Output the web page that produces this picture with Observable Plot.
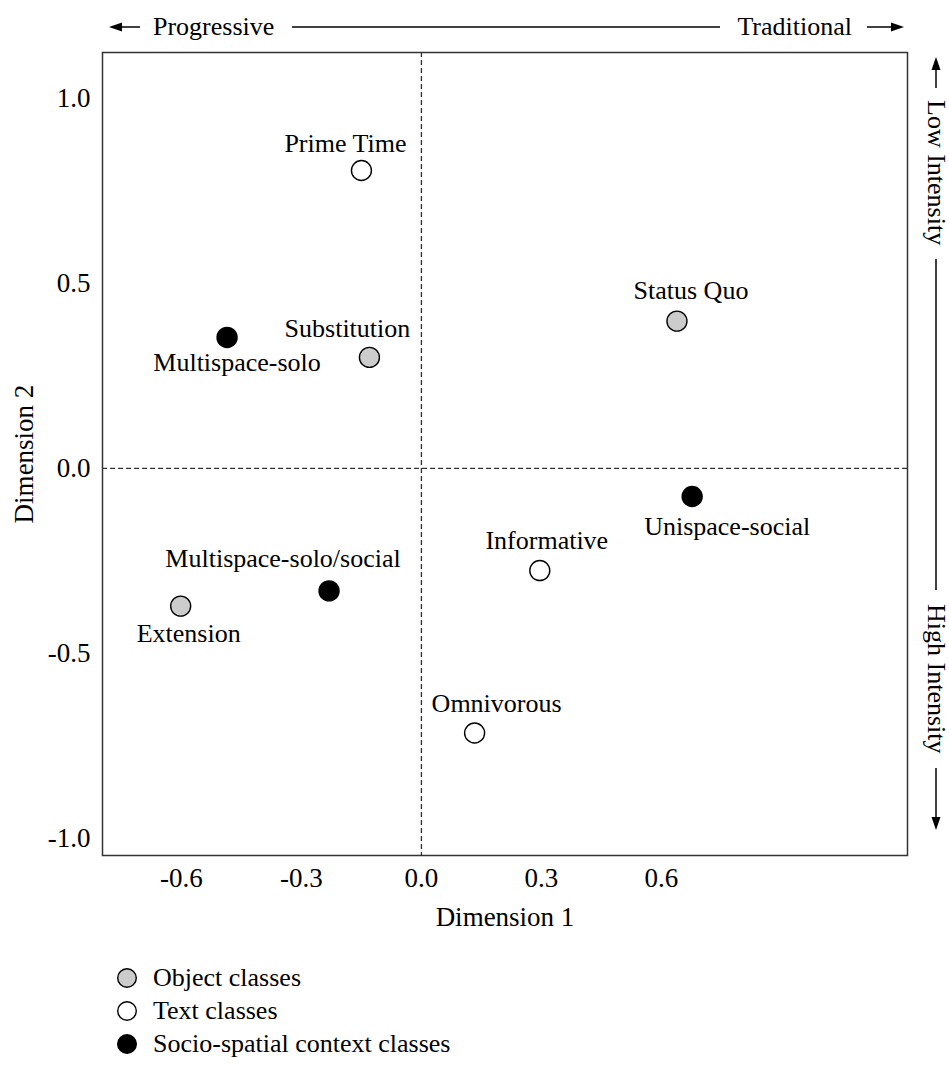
<!DOCTYPE html>
<html>
<head>
<meta charset="utf-8">
<script src="https://cdn.jsdelivr.net/npm/d3@7"></script>
<script src="https://cdn.jsdelivr.net/npm/@observablehq/plot@0.6"></script>
<style>
  body { margin: 0; background: #fff; font-family: "Liberation Serif", "Times New Roman", serif; }
  #wrap { width: 949px; }
  #legend { position: relative; width: 949px; height: 126px; }
  .lrow { position: absolute; left: 0; height: 34px; display: flex; align-items: center; font-size: 26px; color: #000; }
  .lrow svg { position: absolute; left: 116px; }
  .lrow span { position: absolute; left: 153px; white-space: nowrap; }
</style>
</head>
<body>
<div id="wrap"><div id="chart"></div><div id="legend"></div></div>
<script>
// ---- data ----
const labels = ["Prime Time", "Multispace-solo", "Substitution", "Status Quo", "Unispace-social",
                "Informative", "Multispace-solo/social", "Extension", "Omnivorous"];
const groups = ["Text", "Socio", "Object", "Object", "Socio", "Text", "Socio", "Object", "Text"];
const dim1 = [-0.150, -0.486, -0.130, 0.639, 0.677, 0.296, -0.231, -0.602, 0.133];
const dim2 = [0.805, 0.354, 0.300, 0.398, -0.076, -0.276, -0.331, -0.372, -0.715];
const classKeys = ["Object", "Text", "Socio"];
const classNames = ["Object classes", "Text classes", "Socio-spatial context classes"];
const xTicks = [-0.6, -0.3, 0.0, 0.3, 0.6];
const yTicks = [1.0, 0.5, 0.0, -0.5, -1.0];
const xDomain = [-0.7975, 1.2155];
const yDomain = [-1.046, 1.124];

// ---- styling / layout ----
const classFill = {Object: "#cccccc", Text: "#ffffff", Socio: "#000000"};
const labelNudge = {
  "Prime Time": [-16, -27],
  "Multispace-solo": [10, 25],
  "Substitution": [-22, -29],
  "Status Quo": [14, -30],
  "Unispace-social": [35, 30],
  "Informative": [7, -30],
  "Multispace-solo/social": [-46, -32],
  "Extension": [8, 28],
  "Omnivorous": [22, -29]
};

const points = labels.map((name, i) => ({name, group: groups[i], d1: dim1[i], d2: dim2[i]}));

const W = 949, H = 945;
const M = {top: 52, right: 42, bottom: 90, left: 102};
const fontFamily = '"Liberation Serif", "Times New Roman", serif';

const labelMarks = points.map(p => Plot.text([p], {
  x: "d1", y: "d2", text: "name",
  dx: labelNudge[p.name][0], dy: labelNudge[p.name][1],
  fontSize: 26, fill: "#000", textAnchor: "middle", lineAnchor: "middle"
}));

const chart = Plot.plot({
  width: W, height: H,
  marginTop: M.top, marginRight: M.right, marginBottom: M.bottom, marginLeft: M.left,
  style: {fontFamily, fontSize: "26px", background: "#fff", color: "#000", overflow: "visible"},
  x: {domain: xDomain},
  y: {domain: yDomain},
  marks: [
    Plot.ruleX([0], {stroke: "#333", strokeWidth: 1.3, strokeDasharray: "5,3"}),
    Plot.ruleY([0], {stroke: "#333", strokeWidth: 1.3, strokeDasharray: "5,3"}),
    Plot.frame({stroke: "#333", strokeWidth: 1.5}),
    Plot.axisX({ticks: xTicks, tickSize: 0, tickPadding: 12, tickFormat: d => d.toFixed(1), label: null, fontSize: 27, fill: "#000"}),
    Plot.axisY({ticks: yTicks, tickSize: 0, tickPadding: 12, tickFormat: d => d.toFixed(1), label: null, fontSize: 27, fill: "#000"}),
    Plot.dot(points, {x: "d1", y: "d2", r: 10, fill: d => classFill[d.group], stroke: "#000", strokeWidth: 1.4}),
    ...labelMarks,
    Plot.text(["Dimension 1"], {text: d => d, frameAnchor: "bottom", textAnchor: "middle", dy: 70, fontSize: 27, fill: "#000"}),
    Plot.text(["Dimension 2"], {text: d => d, frameAnchor: "left", textAnchor: "middle", dx: -78, rotate: -90, fontSize: 27, fill: "#000"})
  ]
});
document.getElementById("chart").appendChild(chart);

// ---- direction annotations (decorative, outside the frame) ----
const svg = d3.select(chart);
const ann = svg.append("g").attr("font-family", fontFamily).attr("font-size", 26).attr("fill", "#000");
const fl = M.left, fr = W - M.right, ft = M.top, fb = H - M.bottom;
// top: Progressive <-> Traditional
const ty = 27;
const arrowStroke = g => g.attr("stroke", "#000").attr("stroke-width", 1.5);
ann.append("line").attr("x1", fl + 17).attr("x2", fl + 38).attr("y1", ty).attr("y2", ty).call(arrowStroke);
ann.append("path").attr("d", `M${fl + 7},${ty} L${fl + 20},${ty - 4.5} L${fl + 20},${ty + 4.5} Z`).attr("fill", "#000");
ann.append("text").attr("x", fl + 51).attr("y", ty).attr("dy", "0.32em").attr("text-anchor", "start").text("Progressive");
ann.append("line").attr("x1", fl + 190).attr("x2", fr - 187).attr("y1", ty).attr("y2", ty).call(arrowStroke);
ann.append("text").attr("x", fr - 55).attr("y", ty).attr("dy", "0.32em").attr("text-anchor", "end").text("Traditional");
ann.append("line").attr("x1", fr - 40).attr("x2", fr - 14).attr("y1", ty).attr("y2", ty).call(arrowStroke);
ann.append("path").attr("d", `M${fr - 3},${ty} L${fr - 16},${ty - 4.5} L${fr - 16},${ty + 4.5} Z`).attr("fill", "#000");

// right: Low Intensity <-> High Intensity
const rx = 936;
ann.append("path").attr("d", `M${rx},${ft + 5} L${rx - 4.5},${ft + 18} L${rx + 4.5},${ft + 18} Z`).attr("fill", "#000");
ann.append("line").attr("x1", rx).attr("x2", rx).attr("y1", ft + 15).attr("y2", ft + 36).call(arrowStroke);
ann.append("text").attr("transform", `translate(${rx},${ft + 48}) rotate(90)`).attr("dy", "0.32em").attr("text-anchor", "start").text("Low Intensity");
ann.append("line").attr("x1", rx).attr("x2", rx).attr("y1", ft + 207).attr("y2", fb - 265).call(arrowStroke);
ann.append("text").attr("transform", `translate(${rx},${fb - 251}) rotate(90)`).attr("dy", "0.32em").attr("text-anchor", "start").text("High Intensity");
ann.append("line").attr("x1", rx).attr("x2", rx).attr("y1", fb - 87).attr("y2", fb - 35).call(arrowStroke);
ann.append("path").attr("d", `M${rx},${fb - 25} L${rx - 4.5},${fb - 38} L${rx + 4.5},${fb - 38} Z`).attr("fill", "#000");

// ---- legend (below the SVG) ----
const legend = document.getElementById("legend");
const rowCenters = [33, 66, 99];
classKeys.forEach((k, i) => {
  const row = document.createElement("div");
  row.className = "lrow";
  row.style.top = (rowCenters[i] - 17) + "px";
  row.innerHTML = `<svg width="22" height="22" viewBox="0 0 22 22"><circle cx="11" cy="11" r="9.3" fill="${classFill[k]}" stroke="#000" stroke-width="1.4"/></svg><span>${classNames[i]}</span>`;
  legend.appendChild(row);
});
</script>
</body>
</html>
